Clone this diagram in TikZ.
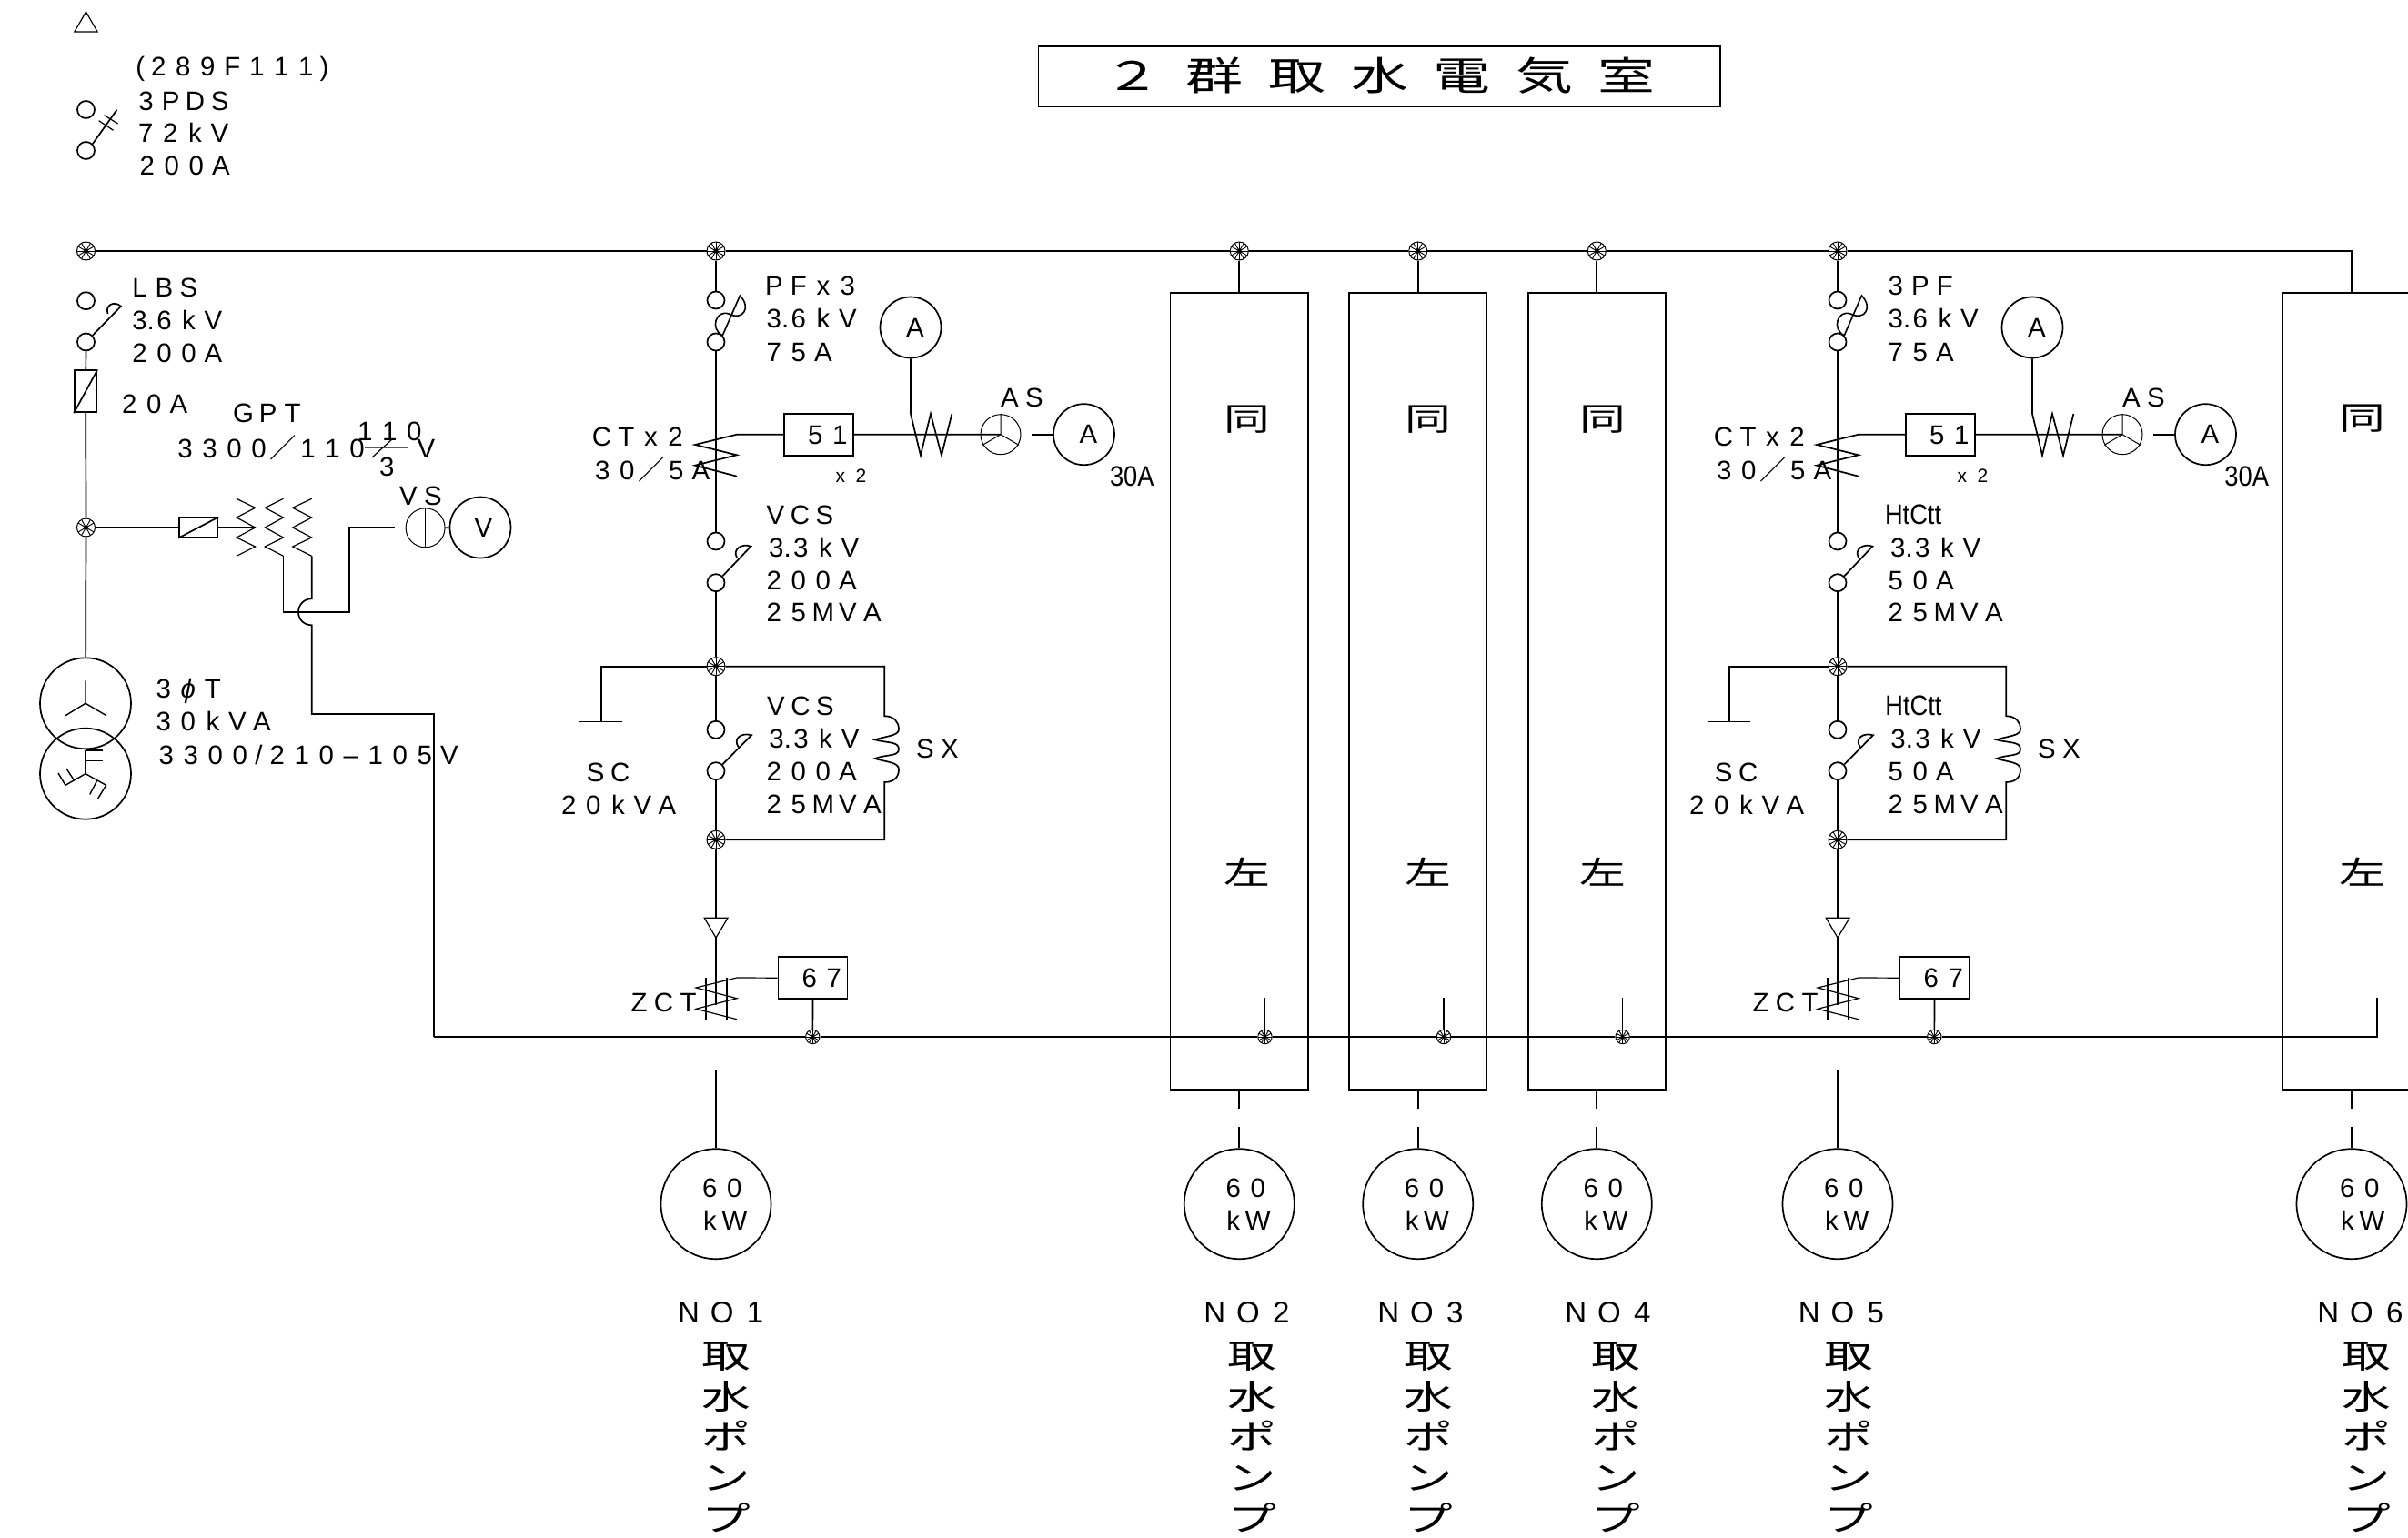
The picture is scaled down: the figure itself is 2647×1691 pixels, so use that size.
\documentclass[tikz,border=0pt]{standalone}
\usepackage{fontspec}
\setmainfont{Liberation Sans}
\newfontfamily\jpwide[FakeStretch=1.45]{Noto Sans CJK JP}
\newfontfamily\jpplain{Noto Sans CJK JP}
\newfontfamily\narrowf[FakeStretch=0.88]{Liberation Sans}
\newlength\cellw
\setlength\cellw{13.5pt}
\def\cellloop#1{\ifx\relax#1\else\hbox to\cellw{\hss#1\hss}\expandafter\cellloop\fi}
\newcommand\fp[1]{\cellloop#1\relax}
\newcommand\sla{{\jpplain ／}}
\newcommand\thr{{3\rlap{.}}}
\def\scdx{0}
\tikzset{
  wire/.style={line width=0.85pt},
  lbl/.style={font=\fontsize{14.7}{16}\selectfont,inner sep=0pt,text height=10.5pt,text depth=0pt,anchor=west},
  nlbl/.style={font=\narrowf\fontsize{15.5}{17}\selectfont,inner sep=0pt,text height=11pt,text depth=0pt,anchor=west},
  smalllbl/.style={font=\fontsize{10.5}{12}\selectfont,inner sep=0pt,text height=7.5pt,text depth=0pt,anchor=west},
  nolbl/.style={font=\fontsize{16.5}{18}\selectfont,inner sep=0pt,text height=12pt,text depth=0pt,anchor=west},
  swc/.style={circle,draw,wire,minimum size=9.5pt,inner sep=0pt},
  meter/.style={circle,draw,wire,minimum size=33.5pt,inner sep=0pt,font=\fontsize{14.7}{16}\selectfont},
  motor/.style={circle,draw,wire,minimum size=60.5pt,inner sep=0pt},
  xfmr/.style={circle,draw,wire,minimum size=50pt,inner sep=0pt},
  relay/.style={rectangle,draw,wire,minimum width=38pt,minimum height=23pt,inner sep=0pt},
  same/.style={rectangle,draw,wire,minimum width=75.7pt,minimum height=438pt,inner sep=0pt},
  jpbig/.style={font=\jpwide\fontsize{17.5}{20}\selectfont,inner sep=0pt},
  pump/.style={font=\jpwide\fontsize{18.5}{22.35}\selectfont,inner sep=0pt,align=center},
}
% junction: #1 name, #2 x, #3 y, #4 radius in px
\newcommand\jn[4]{%
  \node[circle,draw,line width=0.5pt,minimum size=#4pt,inner sep=0pt] (#1) at (#2,#3) {};
  \foreach \a in {0,30,...,330}{\draw[line width=0.45pt] (#1.center) -- ++(\a:#4);}
  \fill (#1.center) circle[radius=#4*0.25];
}
\newcommand\lb[5][lbl]{\node[#1] (#2) at (#3,#4) {\fp{#5}};}
% feeder drawn at the coordinates of feeder NO1, moved by the enclosing scope
\newcommand\feeder[5]{%
  \jn{#1j}{787}{276}{10}
  \node[swc] (#1pa) at (787,330) {};
  \node[swc] (#1pb) at (787,376) {};
  \draw[wire] (#1j) -- (#1pa);
  \draw[line width=0.8pt] (#1pb.north east) -- (813.4,325) .. controls (826,338) and (817,353) .. (801,345) .. controls (787,340) and (780,362) .. (#1pb.north east);
  \lb{#1t1}{837}{314}{#2}
  \lb{#1t2}{837}{350}{\thr 6kV}
  \lb{#1t3}{837}{387}{75A}
  \node[swc] (#1va) at (787,595) {};
  \node[swc] (#1vb) at (787,640.7) {};
  \draw[wire] (#1pb) -- (#1va);
  \draw[wire] (#1vb.north east) -- (825.4,600.7) .. controls (815,597) and (805,604) .. (810,613);
  \node[#5] (#1t4) at (838.6,565.7) {#3};
  \lb{#1t5}{839.5}{601.7}{\thr 3kV}
  \lb{#1t6}{837}{638.3}{#4}
  \lb{#1t7}{837}{673}{25MVA}
  % CT and relay 51
  \node[relay] (#1r51) at (900.2,477.8) {};
  \lb{#1t51}{882.5}{477.8}{51}
  \coordinate (#1cta) at (810,477.7);
  \draw[wire] (#1r51.west) -- (#1cta) -- (764,489) -- (810,500.3) -- (764,511.7) -- (810,523.7);
  \lb{#1t8}{647.6}{480}{CTx2}
  \lb{#1t9}{648.5}{516.7}{30\sla 5A}
  \lb[smalllbl]{#1t10}{910}{523}{x}
  \lb[smalllbl]{#1t11}{932.5}{523}{2}
  % meters
  \node[meter] (#1ma) at (1001,360) {\kern5pt A};
  \coordinate (#1wt) at (1001,455);
  \draw[wire] (#1ma) -- (#1wt) -- (1012,500.7) -- (1023,455) -- (1035,500.7) -- (1046.4,455);
  \node[circle,draw,line width=0.5pt,minimum size=22pt,inner sep=0pt] (#1as) at (1100,477.7) {};
  \draw[wire] (#1r51.east) -- (#1as.center);
  \draw[line width=0.5pt] (#1as.center) -- (#1as.north) (#1as.center) -- ++(20,11.7) (#1as.center) -- ++(-20,11.7);
  \lb{#1t12}{1096}{436.7}{AS}
  \coordinate (#1asr) at (1134.4,477.7);
  \node[meter] (#1mb) at (1191.5,477.7) {\kern5pt A};
  \draw[wire] (#1asr) -- (#1mb);
  % bus section with SC and SX
  \jn{#1k}{787}{732.7}{10}
  \draw[wire] (#1vb) -- (#1k);
  \coordinate (#1scc) at (660.7+\scdx,732.7);
  \coordinate (#1sct) at (660.7+\scdx,793.3);
  \coordinate (#1scb) at (660.7+\scdx,812.3);
  \draw[wire] (#1k) -- (#1scc) -- (#1sct);
  \draw[line width=0.6pt] (#1sct) ++(-23.4,0) -- ++(46.8,0) (#1scb) ++(-23.4,0) -- ++(46.8,0);
  \lb{#1t13}{640.8+\scdx}{849}{SC}
  \lb{#1t14}{611.5+\scdx}{885}{20kVA}
  \node[swc] (#1wa) at (787,802.3) {};
  \node[swc] (#1wb) at (787,847.7) {};
  \draw[wire] (#1k) -- (#1wa);
  \draw[wire] (#1wb.north east) -- (826,808.3) .. controls (815,805) and (805,812) .. (812,821.7);
  \node[#5] (#1t15) at (839,775.7) {#3};
  \lb{#1t16}{839.7}{811.7}{\thr 3kV}
  \lb{#1t17}{837}{848}{#4}
  \lb{#1t18}{837}{884}{25MVA}
  \jn{#1m}{787}{923.3}{10}
  \draw[wire] (#1wb) -- (#1m);
  \coordinate (#1sxa) at (972.3,732.7);
  \coordinate (#1sxb) at (972.3,787.3);
  \coordinate (#1sxc) at (972.3,860);
  \coordinate (#1sxd) at (972.3,923.3);
  \draw[wire] (#1k) -- (#1sxa) -- (#1sxb) .. controls (983,787.3) and (988,794) .. (988,801.7) .. controls (988,809) and (975,809) .. (961.7,813.3) .. controls (975,817) and (988,815) .. (988,823.5) .. controls (988,832) and (975,829) .. (961.7,834) .. controls (975,838) and (988,838) .. (988,846) .. controls (988,855) and (982,860) .. (#1sxc) -- (#1sxd) -- (#1m);
  \lb{#1t19}{1003}{823}{SX}
  % cable head, ZCT, relay 67
  \coordinate (#1tb) at (787,1009.3);
  \coordinate (#1tt) at (787,1031);
  \coordinate (#1ze) at (787,1105);
  \draw[wire] (#1m) -- (#1tb);
  \draw[wire] (#1tt) -- (#1ze);
  \draw[line width=0.6pt] (774.3,1009.3) -- (#1tt) -- (800,1009.3) -- cycle;
  \draw[wire] (776,1075) -- (776,1120.7) (799,1075) -- (799,1120.7);
  \node[relay] (#1r67) at (893.5,1075.2) {};
  \lb{#1t67}{875.8}{1075.2}{67}
  \coordinate (#1zc) at (810,1075);
  \draw[line width=0.6pt] (#1r67.west) -- (#1zc) -- (765,1086) -- (810,1097.7) -- (765,1109.3) -- (810,1120.7);
  \lb{#1t20}{688.7}{1101.7}{ZCT}
  \jn{#1g}{893.3}{1140}{7.7}
  \draw[wire] (#1r67.south) -- (#1g);
  % motor
  \coordinate (#1cb) at (787,1175.8);
  \node[motor] (#1mo) at (787,1323.7) {};
  \draw[wire] (#1cb) -- (#1mo);
  \lb{#1t21}{766.5}{1305.7}{60}
  \lb{#1t22}{766.5}{1341.7}{kW}
}
% boxed "same as left" feeder: #1 name, #2 line x, #3 box centre x, #4 glyph x, #5 ground x
\newcommand\samebox[5]{%
  \jn{#1j}{#2}{276}{10}
  \node[same] (#1b) at (#3,759.7) {};
  \draw[wire] (#1j) -- (#1j |- #1b.north);
  \node[jpbig] (#1u) at (#4,461) {同};
  \node[jpbig] (#1l) at (#4,959) {左};
  \jn{#1g}{#5}{1140}{7.7}
  \coordinate (#1gt) at (#5,1097.3);
  \draw[wire] (#1gt) -- (#1g);
  \coordinate (#1la) at (#2,1219);
  \coordinate (#1lb) at (#2,1238.5);
  \node[motor] (#1mo) at (#2,1323.7) {};
  \draw[wire] (#1j |- #1b.south) -- (#1la);
  \draw[wire] (#1lb) -- (#1mo);
}
\newcommand\motortext[2]{%
  \lb{#1t60}{#2}{1305.7}{60}
  \lb{#1tkw}{#2}{1341.7}{kW}
}
% pump caption: #1 name, #2 cell x, #3 number text, #4 glyph column x
\newcommand\pumpcap[4]{%
  \node[nolbl] (#1no) at (#2,1442) {\setlength\cellw{18.25pt}\fp{#3}};
  \node[pump] (#1pu) at (#4,1580) {取\\水\\ポ\\ン\\プ};
}
\begin{document}
\begin{tikzpicture}[x=0.5pt,y=-0.5pt]
\useasboundingbox (0,0) rectangle (2647,1691);
\clip (0,0) rectangle (2647,1691);
% title
\node[rectangle,draw,wire,minimum width=374.8pt,minimum height=33pt,inner sep=0pt] (titlebox) at (1516.2,83.7) {};
\node[inner sep=0pt,font=\jpwide\fontsize{21.7}{24}\selectfont] (title) at (1516.5,83) {\setlength\cellw{45.3pt}\fp{２群取水電気室}};
% incoming
\coordinate (inc) at (94.5,35);
\draw[line width=0.6pt] (81.9,35) -- (94.5,13) -- (107.1,35) -- cycle;
\node[swc] (s1) at (94.5,120.5) {};
\node[swc] (s2) at (94.5,165.5) {};
\draw[wire] (inc) -- (s1);
\draw[wire] (s2.north east) -- (128.5,120.7);
\draw[line width=0.6pt] (108.7,132.7) -- (124.5,143.3) (114.6,126.7) -- (129.6,136);
\jn{j0}{94.5}{276}{10}
\draw[wire] (s2) -- (j0);
\node[lbl] (t0) at (147,73.3) {\hbox to 6.75pt{\hss(\hss}\fp{289F111}\hbox to 6.75pt{\hss)\hss}};
\lb{t1}{146.7}{110.7}{3PDS}
\lb{t2}{146.5}{145.7}{72kV}
\lb{t3}{148}{181.7}{200A}
% LBS
\node[swc] (l1) at (94.5,330.7) {};
\node[swc] (l2) at (94.5,376) {};
\draw[wire] (j0) -- (l1);
\draw[wire] (l2.north east) -- (133,336.7) .. controls (125,330) and (115,336) .. (118.6,345);
\lb{t4}{139.6}{315.7}{LBS}
\lb{t5}{139.6}{352}{\thr 6kV}
\lb{t6}{139.6}{387.7}{200A}
\node[rectangle,draw,wire,minimum width=12.15pt,minimum height=23pt,inner sep=0pt] (f1) at (94.2,430.3) {};
\draw[wire] (f1.south west) -- (f1.north east);
\draw[wire] (l2) -- (f1);
\lb{t7}{128.5}{444}{20A}
\jn{j1}{94.5}{580}{10}
\draw[wire] (f1) -- (j1);
% GPT
\node[rectangle,draw,wire,minimum width=21.25pt,minimum height=10.7pt,inner sep=0pt] (f2) at (218.2,580) {};
\draw[wire] (f2.south west) -- (f2.north east);
\draw[wire] (j1) -- (f2);
\coordinate (gp) at (280.6,580);
\draw[line width=0.6pt] (f2) -- (gp);
\draw[line width=0.6pt] (260,548.3) -- (280.6,558.3) -- (260,569) -- (gp) -- (260,591) -- (280.6,601) -- (260,611.3);
\draw[line width=0.6pt] (311.5,548.3) -- (291.3,558.3) -- (311.5,569) -- (291.3,580) -- (311.5,591) -- (291.3,601) -- (311.5,611.3);
\draw[line width=0.6pt] (342.7,548.3) -- (321.7,558.3) -- (342.7,569) -- (321.7,580) -- (342.7,591) -- (321.7,601) -- (342.7,611.3);
\lb{t8}{253.7}{454}{GPT}
\lb{t9}{189.6}{493}{3300\sla 110}
\lb{t10}{387.5}{474}{110}
\lb{t11}{411.5}{513}{3}
\lb{t12}{454.5}{493}{V}
\draw[line width=0.6pt] (401,492) -- (448,492) (409,503) -- (431,483);
\lb{t13}{435}{545}{VS}
\node[circle,draw,line width=0.5pt,minimum size=21.5pt,inner sep=0pt] (vs) at (467.6,580.3) {};
\draw[line width=0.5pt] (vs.west) -- (vs.east) (vs.north) -- (vs.south);
\node[meter] (vm) at (528,580) {\kern3.5pt V};
\draw[wire] (vs.east) -- (vm);
\coordinate (vsin) at (433.6,580);
\draw[wire] (311.5,611.3) -- (311.5,673) -- (383.8,673) -- (383.8,580) -- (vsin);
\coordinate (gs) at (477,1140);
\draw[wire] (342.7,611.3) -- (342.7,658.3) .. controls (334,658.3) and (328,665) .. (328,673) .. controls (328,681) and (334,687.3) .. (342.7,687.3) -- (342.7,785) -- (477,785) -- (gs);
% transformer
\node[xfmr] (tu) at (94,773.3) {};
\node[xfmr] (tl) at (94,850.7) {};
\draw[wire] (j1) -- (tu);
\draw[line width=0.7pt] (94,748.3) -- (94,773.3) -- (72,786.7) (94,773.3) -- (117,786.7);
\draw[line width=0.7pt] (94,825) -- (94,850.7) (112.6,825) -- (94,825) (112.6,836.7) -- (94,836.7);
\draw[line width=0.7pt] (64,850) -- (72,863.3) -- (94,850.7) -- (116.6,863.3) -- (107.5,878.3) (81,857.3) -- (73,845) (106.7,858.3) -- (98.8,873.3);
\lb{t14}{166}{756.7}{3{\itshape ϕ}T}
\lb{t15}{166}{793.3}{30kVA}
\node[lbl] (t16) at (169,830) {\fp{3300}\hbox to 7pt{\hss/\hss}\fp{210–105V}};
% feeders
\feeder{a}{PFx3}{\fp{VCS}}{200A}{lbl}
\node[nlbl] (a30) at (1219.6,523) {30A};
\begin{scope}[xshift=616.5pt]
\def\scdx{7}
\feeder{e}{3PF}{HtCtt}{50A}{nlbl}
\end{scope}
\node[nlbl] (e30) at (2445,523) {30A};
\samebox{b}{1362.3}{1362.2}{1371}{1390.5}
\samebox{c}{1558.7}{1558.7}{1570}{1587}
\samebox{d}{1755.3}{1755.4}{1762}{1783.6}
\motortext{b}{1341.8}
\motortext{c}{1538.2}
\motortext{d}{1734.8}
% sixth feeder, whose box runs off the sheet
\coordinate (fcorner) at (2585,276);
\node[rectangle,draw,wire,minimum width=95pt,minimum height=438pt,inner sep=0pt] (fbox) at (2604.3,759.7) {};
\node[jpbig] (fu) at (2596.7,460) {同};
\node[jpbig] (fl) at (2596.7,959) {左};
\coordinate (fla) at (2585,1219);
\coordinate (flb) at (2585,1238.5);
\node[motor] (fmo) at (2585,1323.7) {};
\draw[wire] (fcorner |- fbox.south) -- (fla);
\draw[wire] (flb) -- (fmo);
\motortext{f}{2566.5}
% main bus
\draw[wire] (j0) -- (aj) -- (bj) -- (cj) -- (dj) -- (ej) -- (fcorner) -- (fcorner |- fbox.north);
% earth bus
\coordinate (gend) at (2613,1140);
\coordinate (gtop) at (2613,1097.3);
\draw[wire] (gs) -- (ag) -- (bg) -- (cg) -- (dg) -- (eg) -- (gend) -- (gtop);
% captions
\pumpcap{a}{738.5}{NO1}{798.3}
\pumpcap{b}{1316.7}{NO2}{1376}
\pumpcap{c}{1507.7}{NO3}{1570}
\pumpcap{d}{1713.7}{NO4}{1776}
\pumpcap{e}{1970.2}{NO5}{2032}
\pumpcap{f}{2540.7}{NO6}{2601}
\end{tikzpicture}
\end{document}
